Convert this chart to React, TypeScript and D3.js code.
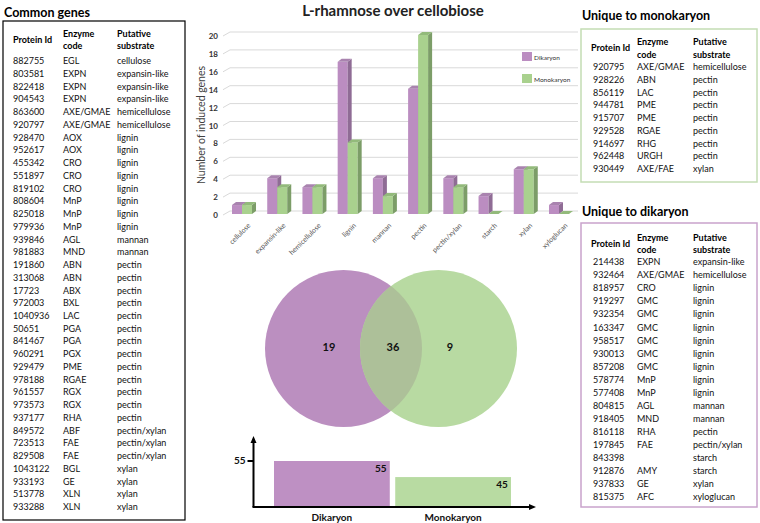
import React from "react";
import * as d3 from "d3";

const categories = ["cellulose", "expansin-like", "hemicellulose", "lignin", "mannan", "pectin", "pectin/xylan", "starch", "xylan", "xyloglucan"];
const dikaryon = [1, 4, 3, 17, 4, 14, 4, 2, 5, 1];
const monokaryon = [1, 3, 3, 8, 2, 20, 3, 0, 5, 0];
const yTicks = [0, 2, 4, 6, 8, 10, 12, 14, 16, 18, 20];
const seriesNames = ["Dikaryon", "Monokaryon"];
const vennCounts = [19, 36, 9];
const totals = [55, 45];
const totalTicks = [55];

const commonGenes: [string, string, string][] = [
  ["882755", "EGL", "cellulose"],
  ["803581", "EXPN", "expansin-like"],
  ["822418", "EXPN", "expansin-like"],
  ["904543", "EXPN", "expansin-like"],
  ["863600", "AXE/GMAE", "hemicellulose"],
  ["920797", "AXE/GMAE", "hemicellulose"],
  ["928470", "AOX", "lignin"],
  ["952617", "AOX", "lignin"],
  ["455342", "CRO", "lignin"],
  ["551897", "CRO", "lignin"],
  ["819102", "CRO", "lignin"],
  ["808604", "MnP", "lignin"],
  ["825018", "MnP", "lignin"],
  ["979936", "MnP", "lignin"],
  ["939846", "AGL", "mannan"],
  ["981883", "MND", "mannan"],
  ["191860", "ABN", "pectin"],
  ["313068", "ABN", "pectin"],
  ["17723", "ABX", "pectin"],
  ["972003", "BXL", "pectin"],
  ["1040936", "LAC", "pectin"],
  ["50651", "PGA", "pectin"],
  ["841467", "PGA", "pectin"],
  ["960291", "PGX", "pectin"],
  ["929479", "PME", "pectin"],
  ["978188", "RGAE", "pectin"],
  ["961557", "RGX", "pectin"],
  ["973573", "RGX", "pectin"],
  ["937177", "RHA", "pectin"],
  ["849572", "ABF", "pectin/xylan"],
  ["723513", "FAE", "pectin/xylan"],
  ["829508", "FAE", "pectin/xylan"],
  ["1043122", "BGL", "xylan"],
  ["933193", "GE", "xylan"],
  ["513778", "XLN", "xylan"],
  ["933288", "XLN", "xylan"],
];

const monoGenes: [string, string, string][] = [
  ["920795", "AXE/GMAE", "hemicellulose"],
  ["928226", "ABN", "pectin"],
  ["856119", "LAC", "pectin"],
  ["944781", "PME", "pectin"],
  ["915707", "PME", "pectin"],
  ["929528", "RGAE", "pectin"],
  ["914697", "RHG", "pectin"],
  ["962448", "URGH", "pectin"],
  ["930449", "AXE/FAE", "xylan"],
];

const dikGenes: [string, string, string][] = [
  ["214438", "EXPN", "expansin-like"],
  ["932464", "AXE/GMAE", "hemicellulose"],
  ["818957", "CRO", "lignin"],
  ["919297", "GMC", "lignin"],
  ["932354", "GMC", "lignin"],
  ["163347", "GMC", "lignin"],
  ["958517", "GMC", "lignin"],
  ["930013", "GMC", "lignin"],
  ["857208", "GMC", "lignin"],
  ["578774", "MnP", "lignin"],
  ["577408", "MnP", "lignin"],
  ["804815", "AGL", "mannan"],
  ["918405", "MND", "mannan"],
  ["816118", "RHA", "pectin"],
  ["197845", "FAE", "pectin/xylan"],
  ["843398", "", "starch"],
  ["912876", "AMY", "starch"],
  ["937833", "GE", "xylan"],
  ["815375", "AFC", "xyloglucan"],
];

const FONT = "Lato, 'Open Sans', sans-serif";
const PURPLE = "#bc8fc1";
const GREEN = "#b3d79c";

type TableProps = {
  title: string;
  rows: [string, string, string][];
  box: { x: number; y: number; w: number; h: number };
  stroke: string;
  strokeWidth: number;
  titleY: number;
  cols: number[];
  idX: number;
  headY: number;
  rowY0: number;
  rowDy: number;
};

function GeneTable(p: TableProps) {
  const rowY = d3.scaleLinear().domain([0, 1]).range([p.rowY0, p.rowY0 + p.rowDy]);
  return (
    <g fontFamily={FONT}>
      <text x={p.box.x + 1} y={p.titleY} fontSize={12.5} fontWeight="bold" fill="#000">{p.title}</text>
      <rect x={p.box.x} y={p.box.y} width={p.box.w} height={p.box.h} fill="#fff" stroke={p.stroke} strokeWidth={p.strokeWidth} />
      <g fontSize={9} fontWeight="bold" fill="#000" dominantBaseline="central">
        <text x={p.cols[0]} y={p.headY + 6}>Protein Id</text>
        <text x={p.cols[1]} y={p.headY}>Enzyme</text>
        <text x={p.cols[1]} y={p.headY + 12.5}>code</text>
        <text x={p.cols[2]} y={p.headY}>Putative</text>
        <text x={p.cols[2]} y={p.headY + 12.5}>substrate</text>
      </g>
      <g fontSize={9} fill="#111" dominantBaseline="central">
        {p.rows.map((r, i) => (
          <g key={i}>
            <text x={p.idX} y={rowY(i)}>{r[0]}</text>
            <text x={p.cols[1]} y={rowY(i)}>{r[1]}</text>
            <text x={p.cols[2]} y={rowY(i)}>{r[2]}</text>
          </g>
        ))}
      </g>
    </g>
  );
}

function BarChart3D() {
  const x = d3.scalePoint<string>().domain(categories).range([224.4, 576.6]).padding(0.5);
  const xs = d3.scaleBand<string>().domain(seriesNames).range([-10, 10]);
  const y = d3.scaleLinear().domain([0, 20]).range([214, 35]);
  const dx = 4;
  const dy = -3;
  const faces = [
    { front: "#bb8dc1", side: "#8f6c95", top: "#a983af" },
    { front: "#a9d18e", side: "#7c9d68", top: "#93ba7b" },
  ];
  const series = [dikaryon, monokaryon];
  const bar = (cx: number, w: number, v: number, c: typeof faces[0], key: string) => {
    const x0 = cx;
    const yt = y(v);
    const yb = y(0);
    return (
      <g key={key}>
        <rect x={x0} y={yt} width={w} height={yb - yt} fill={c.front} />
        <polygon points={`${x0 + w},${yt} ${x0 + w + dx},${yt + dy} ${x0 + w + dx},${yb + dy} ${x0 + w},${yb}`} fill={c.side} />
        <polygon points={`${x0},${yt} ${x0 + dx},${yt + dy} ${x0 + w + dx},${yt + dy} ${x0 + w},${yt}`} fill={c.top} />
      </g>
    );
  };
  return (
    <g fontFamily={FONT}>
      <text x={393} y={16} textAnchor="middle" fontSize={15} fontWeight="bold" fill="#222">L-rhamnose over cellobiose</text>
      {yTicks.map((t) => (
        <g key={t}>
          <polyline points={`${223},${y(t) + 1} ${230},${y(t) - 3} ${578},${y(t) - 3}`} fill="none" stroke="#d9d9d9" strokeWidth={1} />
          <text x={218} y={y(t) + 1} textAnchor="end" dominantBaseline="central" fontSize={8} fontWeight="bold" fill="#333">{t}</text>
        </g>
      ))}
      <text transform={`translate(201,125) rotate(-90)`} textAnchor="middle" dominantBaseline="central" fontSize={10.5} fill="#404040">Number of induced genes</text>
      {categories.map((c, i) => (
        <g key={c}>
          {series.map((s, j) => bar((x(c) as number) + (xs(seriesNames[j]) as number), xs.bandwidth(), s[i], faces[j], c + j))}
        </g>
      ))}
      {categories.map((c) => (
        <text key={c} transform={`translate(${(x(c) as number) + 5},${222}) rotate(-45)`} textAnchor="end" dominantBaseline="hanging" fontSize={7} fill="#595959">{c}</text>
      ))}
      {seriesNames.map((n, j) => (
        <g key={n}>
          <rect x={522} y={52 + j * 22} width={10} height={9} fill={faces[j].front} />
          <text x={534} y={57 + j * 22} dominantBaseline="central" fontSize={6.5} fill="#333">{n}</text>
        </g>
      ))}
    </g>
  );
}

function Venn() {
  const cx = d3.scaleLinear().domain([0, 1]).range([343.5, 438.5]);
  const r = 78.5;
  const cy = 348.5;
  const labelX = d3.scaleLinear().domain([0, 1, 2]).range([329, 393, 450]);
  return (
    <g fontFamily={FONT}>
      <defs>
        <clipPath id="leftClip">
          <circle cx={cx(0)} cy={cy} r={r} />
        </clipPath>
      </defs>
      <circle cx={cx(0)} cy={cy} r={r} fill="#bb8fc0" />
      <circle cx={cx(1)} cy={cy} r={r} fill="#b8daa2" />
      <circle cx={cx(1)} cy={cy} r={r} fill="#adc099" clipPath="url(#leftClip)" />
      {vennCounts.map((v, i) => (
        <text key={i} x={labelX(i)} y={cy - 2} textAnchor="middle" dominantBaseline="central" fontSize={11} fontWeight="bold" fill="#111">{v}</text>
      ))}
    </g>
  );
}

function TotalsChart() {
  const x = d3.scaleBand<string>().domain(seriesNames).range([274, 511]).paddingInner(0.045);
  const y = d3.scaleLinear().domain([27, 55]).range([506, 461]);
  const colors = ["#be90c3", "#b8dba2"];
  const axisX = 253.5;
  const axisY = 507;
  return (
    <g fontFamily={FONT}>
      {seriesNames.map((n, i) => (
        <g key={n}>
          <rect x={x(n)} y={y(totals[i])} width={x.bandwidth()} height={y(27) - y(totals[i])} fill={colors[i]} />
          <text x={(x(n) as number) + x.bandwidth() - 9} y={y(totals[i]) + 7} textAnchor="middle" dominantBaseline="central" fontSize={10} fontWeight="bold" fill="#111">{totals[i]}</text>
          <text x={(x(n) as number) + x.bandwidth() / 2} y={axisY + 10} textAnchor="middle" dominantBaseline="central" fontSize={10} fontWeight="bold" fill="#111">{n}</text>
        </g>
      ))}
      <line x1={axisX} y1={axisY} x2={axisX} y2={442} stroke="#000" strokeWidth={2} />
      <polygon points={`${axisX - 3},${443} ${axisX},${436} ${axisX + 3},${443}`} fill="#000" />
      <line x1={axisX - 1} y1={axisY} x2={530} y2={axisY} stroke="#000" strokeWidth={2} />
      <polygon points={`${529},${axisY - 3} ${536},${axisY} ${529},${axisY + 3}`} fill="#000" />
      {totalTicks.map((t) => (
        <g key={t}>
          <line x1={axisX - 6} y1={y(t)} x2={axisX} y2={y(t)} stroke="#000" strokeWidth={2} />
          <text x={axisX - 8} y={y(t) - 1} textAnchor="end" dominantBaseline="central" fontSize={10} fontWeight="bold" fill="#111">{t}</text>
        </g>
      ))}
    </g>
  );
}

export default function App() {
  return (
    <svg width={760} height={523} style={{ position: "absolute", left: 0, top: 0, background: "#fff" }}>
      <rect x={0} y={0} width={760} height={523} fill="#fff" />
      <GeneTable title="Common genes" rows={commonGenes} box={{ x: 3, y: 21, w: 182, h: 499 }} stroke="#000" strokeWidth={1.2}
        titleY={17} cols={[13, 63, 117]} idX={13} headY={33.3} rowY0={60.7} rowDy={12.74} />
      <BarChart3D />
      <Venn />
      <TotalsChart />
      <GeneTable title="Unique to monokaryon" rows={monoGenes} box={{ x: 581, y: 29, w: 176, h: 153 }} stroke="#c4ddb4" strokeWidth={1.5}
        titleY={20} cols={[591, 637, 693]} idX={593} headY={41.7} rowY0={66.7} rowDy={12.75} />
      <GeneTable title="Unique to dikaryon" rows={dikGenes} box={{ x: 581, y: 223, w: 176, h: 284 }} stroke="#c9a3cc" strokeWidth={1.5}
        titleY={216} cols={[591, 637, 693]} idX={593} headY={237} rowY0={261.7} rowDy={13.06} />
    </svg>
  );
}
